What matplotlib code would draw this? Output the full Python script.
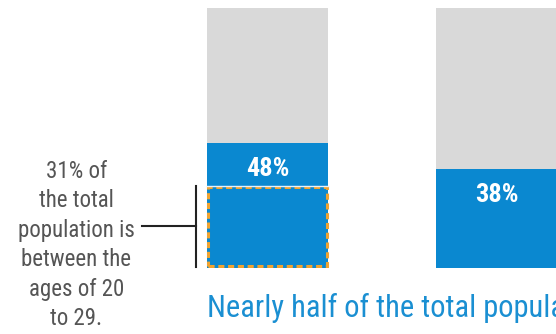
import matplotlib.pyplot as plt
import matplotlib.transforms as mtransforms
from matplotlib.patches import Rectangle

# data
groups = ['A', 'B']
share = [48, 38]          # blue part of each bar, %
sub_share = 31            # dashed sub-part of first bar, %
total = 100
labels = ['48%', '38%']
note = "31% of\nthe total\npopulation is\nbetween the\nages of 20\nto 29."
headline = "Nearly half of the total population"

grey = '#d9d9d9'
blue = '#0a88d0'
orange = '#f0a330'
text_blue = '#1a8fd2'
fam = ['Roboto Condensed', 'Archivo Narrow', 'DejaVu Sans']

fig = plt.figure(figsize=(5.56, 3.34), dpi=100)
ax = fig.add_axes([0, 66 / 334, 1, 260 / 334])
ax.axis('off')

x = [0, 1]
w = 0.528
ax.bar(x, [total] * 2, width=w, color=grey, linewidth=0)
ax.bar(x, share, width=w, color=blue, linewidth=0)
ax.set_xlim(-1.168, 1.26)
ax.set_ylim(0, 100)

for xi, s, lab in zip(x, share, labels):
    ax.text(xi, s - 10, lab, ha='center', va='center', color='white',
            fontsize=19, fontweight='bold', family=fam)

# light separator + dashed box for the 31% part
ax.plot([x[0] - w / 2, x[0] + w / 2], [sub_share + 0.5] * 2, color='#e8f2fa', lw=1)
ax.add_patch(Rectangle((x[0] - w / 2 + 0.004, 0.6), w - 0.008, sub_share - 0.6,
                       fill=False, edgecolor=orange, lw=2.2, ls=(0, (2, 1.2))))

# bracket
bx = x[0] - w / 2 - 0.048
ax.plot([bx, bx], [0.5, sub_share + 0.5], color='#222222', lw=1.5, clip_on=False)
ax.plot([bx - 0.236, bx], [sub_share / 2 + 0.5] * 2, color='#222222', lw=1.5,
        clip_on=False)

trans = mtransforms.blended_transform_factory(ax.transData, fig.transFigure)
ax.text(-0.835, 1 - 245 / 334, note, transform=trans, ha='center', va='center',
        fontsize=16.5, color='#555555', family=fam, linespacing=1.36)

ax.text(x[0] - w / 2, 1 - 317 / 334, headline, transform=trans, ha='left',
        va='baseline', fontsize=22, color=text_blue, family=fam, clip_on=False)

fig.savefig('out.png', dpi=100)
